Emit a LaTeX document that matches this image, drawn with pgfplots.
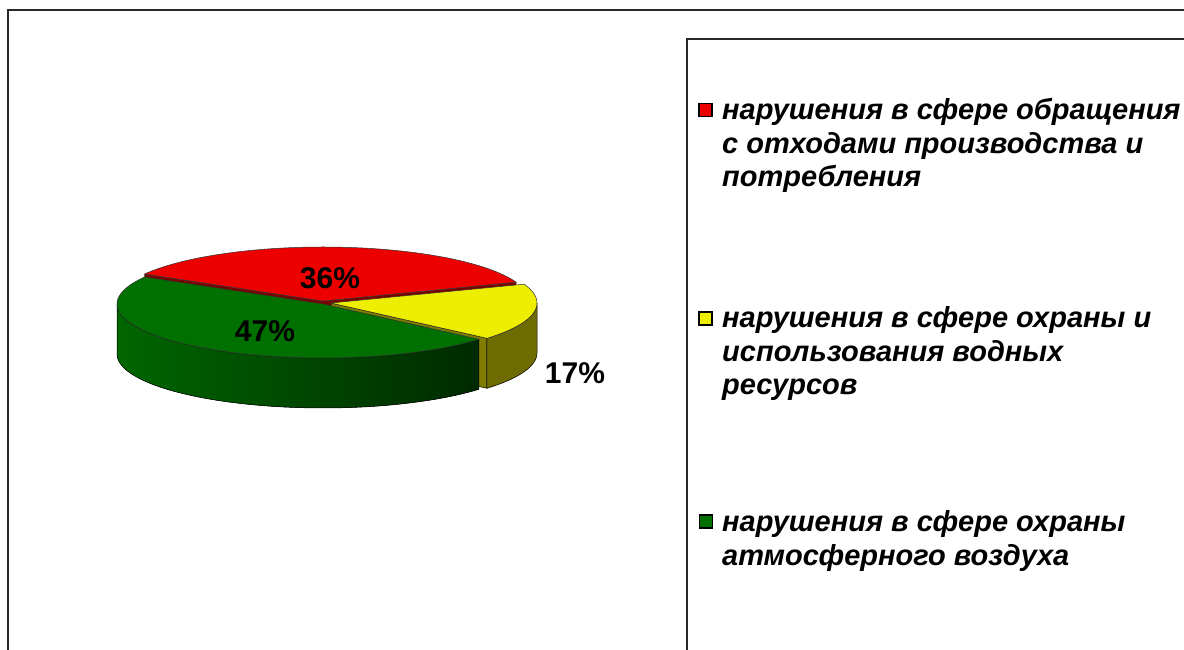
\documentclass[border=0pt]{standalone}
\usepackage{pgfplots}
\pgfplotsset{compat=1.18}
\usepackage{pgfplotstable}
\usepgfplotslibrary{fillbetween}
\usepackage{fontspec}
\setmainfont{Liberation Sans}

\definecolor{redtop}{RGB}{236,0,0}
\definecolor{redface}{RGB}{120,0,0}
\definecolor{yeltop}{RGB}{238,238,0}
\definecolor{yelside}{RGB}{110,108,0}
\definecolor{yelface}{RGB}{128,124,0}
\definecolor{grntop}{RGB}{0,112,0}
\definecolor{grnL}{RGB}{0,102,0}
\definecolor{grnM}{RGB}{0,118,0}
\definecolor{grnR}{RGB}{0,42,0}
\definecolor{frame}{RGB}{40,40,40}

\pgfplotstableread{
slice value
waste 36
water 17
air 47
}\piedata

\begin{document}%
\begin{tikzpicture}
\pgfplotstablegetelem{0}{value}\of\piedata\let\vA\pgfplotsretval
\pgfplotstablegetelem{1}{value}\of\piedata\let\vB\pgfplotsretval
\pgfplotstablegetelem{2}{value}\of\piedata\let\vC\pgfplotsretval
% geometry (pixel units, y downwards)
\def\Cx{323}\def\Cy{304}\def\Rx{206}\def\Ry{54}\def\Th{50}
\def\Rcx{323}\def\Rcy{301}
\def\Ycx{331}\def\Ycy{303}
\pgfmathsetmacro\aS{150}
\pgfmathsetmacro\aAB{\aS-3.6*\vA}
\pgfmathsetmacro\aBC{\aAB-3.6*\vB}
\pgfmathsetmacro\aE{\aBC-3.6*\vC}
\pgfmathsetmacro\rax{\Rcx+\Rx*cos(\aS)}
\pgfmathsetmacro\ray{\Rcy-\Ry*sin(\aS)}
\pgfmathsetmacro\rayb{\ray+\Th}
\pgfmathsetmacro\rbx{\Rcx+\Rx*cos(\aAB)}
\pgfmathsetmacro\rby{\Rcy-\Ry*sin(\aAB)}
\pgfmathsetmacro\rbyb{\rby+\Th}
\pgfmathsetmacro\rcyb{\Rcy+\Th}
\pgfmathsetmacro\yox{\Ycx+\Rx*cos(\aBC)}
\pgfmathsetmacro\yoy{\Ycy-\Ry*sin(\aBC)}
\pgfmathsetmacro\yoyb{\yoy+\Th}
\pgfmathsetmacro\ycyb{\Ycy+\Th}
\edef\facecmds{%
\noexpand\addplot[fill=redface, draw=black!70, line width=0.4pt] coordinates {(\Rcx,\Rcy) (\rax,\ray) (\rax,\rayb) (\Rcx,\rcyb)} -- cycle;
\noexpand\addplot[fill=redface, draw=black!70, line width=0.4pt] coordinates {(\Rcx,\Rcy) (\rbx,\rby) (\rbx,\rbyb) (\Rcx,\rcyb)} -- cycle;
\noexpand\addplot[fill=yelface, draw=black, line width=0.5pt] coordinates {(\Ycx,\Ycy) (\yox,\yoy) (\yox,\yoyb) (\Ycx,\ycyb)} -- cycle;
}
\begin{axis}[at={(0pt,0pt)}, anchor=south west, width=1184pt, height=650pt,
  scale only axis, xmin=0, xmax=1184, ymin=0, ymax=650, y dir=reverse,
  hide axis, clip=false]
\coordinate (BL) at (axis cs:0,650);
\coordinate (TR) at (axis cs:1184,0);
% frames
\draw[frame, line width=1.5pt] (axis cs:8,700) -- (axis cs:8,10) -- (axis cs:1200,10);
\draw[frame, line width=1.2pt] (axis cs:687,700) -- (axis cs:687,39) -- (axis cs:1200,39);
% hidden radial faces
\facecmds
% yellow outer side
\addplot[draw=none, name path=yt, domain=\aBC:0, samples=40] ({\Ycx+\Rx*cos(x)},{\Ycy-\Ry*sin(x)});
\addplot[draw=none, name path=yb, domain=\aBC:0, samples=40] ({\Ycx+\Rx*cos(x)},{\Ycy+\Th-\Ry*sin(x)});
\addplot[fill=yelside, draw=black, line width=0.5pt] fill between[of=yt and yb, on layer=main];
% green outer side
\addplot[draw=none, name path=gt, domain=-180:\aBC, samples=100] ({\Cx+\Rx*cos(x)},{\Cy-\Ry*sin(x)});
\addplot[draw=none, name path=gb, domain=-180:\aBC, samples=100] ({\Cx+\Rx*cos(x)},{\Cy+\Th-\Ry*sin(x)});
\addplot[left color=grnL, middle color=grnM, right color=grnR, draw=black, line width=0.5pt] fill between[of=gt and gb, on layer=main];
% top faces
\addplot[fill=grntop, draw=black!80, line width=0.5pt, domain=\aE:\aBC, samples=120] ({\Cx+\Rx*cos(x)},{\Cy-\Ry*sin(x)}) -- (axis cs:\Cx,\Cy) -- cycle;
\addplot[fill=yeltop, draw=black!80, line width=0.5pt, domain=\aBC:\aAB, samples=60] ({\Ycx+\Rx*cos(x)},{\Ycy-\Ry*sin(x)}) -- (axis cs:\Ycx,\Ycy) -- cycle;
\addplot[fill=redtop, draw=black!80, line width=0.5pt, domain=\aAB:\aS, samples=100] ({\Rcx+\Rx*cos(x)},{\Rcy-\Ry*sin(x)}) -- (axis cs:\Rcx,\Rcy) -- cycle;
% percentage labels
\node[font=\fontsize{30}{36}\selectfont\bfseries, anchor=base] at (axis cs:330,289) {36\%};
\node[font=\fontsize{30}{36}\selectfont\bfseries, anchor=base] at (axis cs:265,342) {47\%};
\node[font=\fontsize{30}{36}\selectfont\bfseries, anchor=base] at (axis cs:575,384) {17\%};
% legend markers
\addplot[only marks, mark=square*, mark size=6.5pt, mark options={fill=redtop, draw=black, line width=1.2pt}] coordinates {(705.5,110)};
\addplot[only marks, mark=square*, mark size=6.5pt, mark options={fill=yeltop, draw=black, line width=1.2pt}] coordinates {(705.5,318.5)};
\addplot[only marks, mark=square*, mark size=6.5pt, mark options={fill=grntop, draw=black, line width=1.2pt}] coordinates {(706,521.5)};
% legend text
\tikzset{leg/.style={anchor=base west, inner sep=0pt, font=\fontsize{29}{34}\selectfont\bfseries\itshape}}
\node[leg] at (axis cs:722,120) {нарушения в сфере обращения};
\node[leg] at (axis cs:722,153.5) {с отходами производства и};
\node[leg] at (axis cs:722,187) {потребления};
\node[leg] at (axis cs:722,328) {нарушения в сфере охраны и};
\node[leg] at (axis cs:722,361.5) {использования водных};
\node[leg] at (axis cs:722,395) {ресурсов};
\node[leg] at (axis cs:722,532) {нарушения в сфере охраны};
\node[leg] at (axis cs:722,565.5) {атмосферного воздуха};
\end{axis}
\pgfresetboundingbox
\path[use as bounding box] (BL) rectangle (TR);
\end{tikzpicture}%
\end{document}
